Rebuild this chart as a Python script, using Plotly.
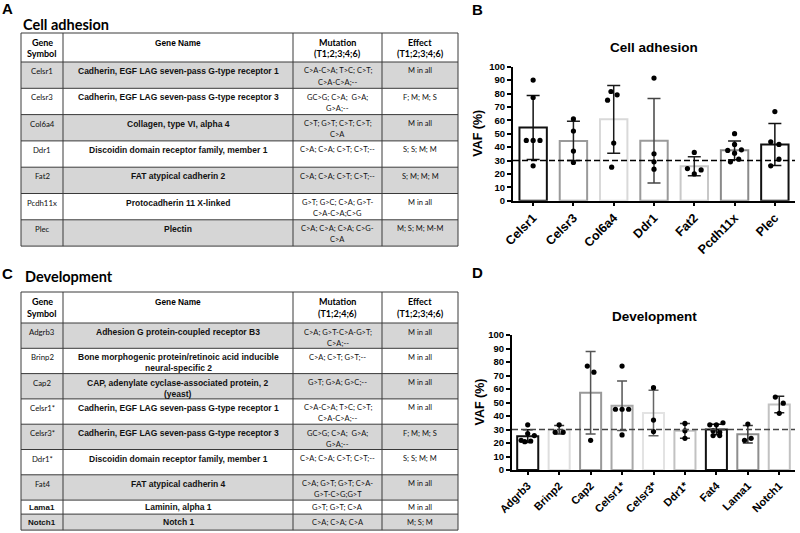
import numpy as np
import plotly.graph_objects as go

W, H = 800, 533

# ------------------------------------------------------------------ table data
ca_header = ["Gene<br>Symbol", "Gene Name", "Mutation<br>(T1;2;3;4;6)", "Effect<br>(T1;2;3;4;6)"]
ca_symbols = ["Celsr1", "Celsr3", "Col6a4", "Ddr1", "Fat2", "Pcdh11x", "Plec"]
ca_names = [
    "Cadherin, EGF LAG seven-pass G-type receptor 1",
    "Cadherin, EGF LAG seven-pass G-type receptor 3",
    "Collagen, type VI, alpha 4",
    "Discoidin domain receptor family, member 1",
    "FAT atypical cadherin 2",
    "Protocadherin 11 X-linked",
    "Plectin",
]
ca_mutations = [
    "C>A-C>A; T>C; C>T;<br>C>A-C>A;--",
    "GC>G; C>A;  G>A;<br>G>A;--",
    "C>T; G>T; C>T; C>T;<br>C>A",
    "C>A; C>A; C>T; C>T;--",
    "C>A; C>A; C>T; C>T;--",
    "G>T; G>C; C>A; G>T-<br>C>A-C>A;C>G",
    "C>A; C>A; C>A; C>G-<br>C>A",
]
ca_effects = ["M in all", "F; M; M; S", "M in all", "S; S; M; M", "S; M; M; M", "M in all", "M; S; M; M-M"]

dev_header = ["Gene<br>Symbol", "Gene Name", "Mutation<br>(T1;2;4;6)", "Effect<br>(T1;2;3;4;6)"]
dev_symbols = ["Adgrb3", "Brinp2", "Cap2", "Celsr1*", "Celsr3*", "Ddr1*", "Fat4", "Lama1", "Notch1"]
dev_names = [
    "Adhesion G protein-coupled receptor B3",
    "Bone morphogenic protein/retinoic acid inducible<br>neural-specific 2",
    "CAP, adenylate cyclase-associated protein, 2<br>(yeast)",
    "Cadherin, EGF LAG seven-pass G-type receptor 1",
    "Cadherin, EGF LAG seven-pass G-type receptor 3",
    "Discoidin domain receptor family, member 1",
    "FAT atypical cadherin 4",
    "Laminin, alpha 1",
    "Notch 1",
]
dev_mutations = [
    "C>A; G>T-C>A-G>T;<br>C>A;--",
    "C>A; C>T; G>T;--",
    "G>T; G>A; G>C;--",
    "C>A-C>A; T>C; C>T;<br>C>A-C>A;--",
    "GC>G; C>A;  G>A;<br>G>A;--",
    "C>A; C>A; C>T; C>T;--",
    "C>A; G>T; G>T; C>A-<br>G>T-C>G;G>T",
    "G>T; G>T; C>A",
    "C>A; C>A; C>A",
]
dev_effects = ["M in all", "M in all", "M in all", "M in all", "F; M; M; S", "S; S; M; M", "M in all", "M in all", "M; S; M"]

# ------------------------------------------------------------------ VAF data (%)
ca_genes = ["Celsr1", "Celsr3", "Col6a4", "Ddr1", "Fat2", "Pcdh11x", "Plec"]
ca_vaf = [
    [90, 77, 45, 45, 45, 26],
    [61, 52, 37, 28.5],
    [81.5, 79, 75, 43, 25],
    [91.5, 35, 29, 23.5],
    [36, 24, 23, 20],
    [50, 42, 38, 37.5, 35.5, 31, 29],
    [66.5, 44, 42, 31, 26],
]
dev_genes = ["Adgrb3", "Brinp2", "Cap2", "Celsr1*", "Celsr3*", "Ddr1*", "Fat4", "Lama1", "Notch1"]
dev_vaf = [
    [33.5, 27, 25.5, 22, 21, 21.5],
    [33.5, 28, 28],
    [77, 72.5, 22],
    [77, 45, 45, 45, 26],
    [61, 37, 28.5],
    [34.5, 29, 23.5],
    [35, 33.5, 33.5, 29, 28, 25.5, 25.5],
    [34, 23.5, 22],
    [54, 49.5, 42],
]
threshold = 30

# ------------------------------------------------------------------ styles / layout
ca_jitter = [[0, 0, -1, 0, 1, 0], [0, 0, 0, 0], [-0.4, 0.5, -0.9, 0, -0.3], [0, 0, 0, 0],
             [0, -1, 1, 0], [0, 0, 1, -1, 0, 0.6, -0.6], [0, -0.6, 0.6, 0.6, -0.6]]
dev_jitter = [[0, 0, 1, -1, -0.45, 0.45], [0, -0.6, 0.6], [-0.5, 0.5, 0], [0, -1, 0, 1, 0], [0, 0, 0],
              [0, 0, 0], [1, -1, 0, -0.5, 0.5, -0.5, 0.5], [0, 0.5, -0.5], [-0.6, 0.6, 0]]
ca_colors = ["#111111", "#9a9a9a", "#d9d9d9", "#9a9a9a", "#c8c8c8", "#8a8a8a", "#111111"]
ca_ecolors = ["#111111", "#222222", "#1a1a1a", "#444444", "#222222", "#1a1a1a", "#111111"]
dev_colors = ["#111111", "#dedede", "#999999", "#a8a8a8", "#e3e3e3", "#c2c2c2", "#111111", "#8e8e8e", "#c2c2c2"]
dev_ecolors = ["#111111", "#333333", "#555555", "#555555", "#666666", "#333333", "#111111", "#333333", "#222222"]

CAL = "Lato, Carlito, Calibri, sans-serif"
ARI = "Liberation Sans, Arial, sans-serif"


def fx(px):
    return px / W


def fy(py):
    return 1 - py / H


fig = go.Figure()
shapes = []
annotations = []


def text(px, py, s, size, family, bold=False, xanchor="center", yanchor="middle", angle=0, color="black"):
    annotations.append(dict(
        x=fx(px), y=fy(py), xref="paper", yref="paper", text=s, showarrow=False,
        xanchor=xanchor, yanchor=yanchor, textangle=angle,
        font=dict(size=size, family=family, color=color, weight="bold" if bold else "normal"),
    ))


def draw_table(top, col_edges, header_h, row_heights, header, rows, symbol_bold):
    y = top + header_h
    bounds = []
    for i, h in enumerate(row_heights):
        bounds.append((y, y + h))
        if i % 2 == 0:
            shapes.append(dict(type="rect", xref="paper", yref="paper", x0=fx(col_edges[0]), x1=fx(col_edges[-1]),
                               y0=fy(y), y1=fy(y + h), fillcolor="#d6d6d6", line=dict(width=0), layer="below"))
        y += h
    bottom = y
    for yy in [top, top + header_h] + [b[1] for b in bounds]:
        shapes.append(dict(type="line", xref="paper", yref="paper", x0=fx(col_edges[0]), x1=fx(col_edges[-1]),
                           y0=fy(yy), y1=fy(yy), line=dict(color="#3a3a3a", width=1)))
    for xx in col_edges:
        shapes.append(dict(type="line", xref="paper", yref="paper", x0=fx(xx), x1=fx(xx),
                           y0=fy(top), y1=fy(bottom), line=dict(color="#3a3a3a", width=1)))
    centers = [(col_edges[k] + col_edges[k + 1]) / 2 for k in range(len(col_edges) - 1)]
    for k, s in enumerate(header):
        fam = ARI if k == 1 else CAL
        size = 8.3 if k == 1 else 9
        for j, line in enumerate(s.split("<br>")):
            text(centers[k], top + 9.5 + 11.5 * j, line, size, fam, bold=True)
    for r, (row, (y0, y1)) in enumerate(zip(rows, bounds)):
        for k, s in enumerate(row):
            if k == 0:
                fam, size, b = (ARI, 8, True) if symbol_bold[r] else (CAL, 7.8, False)
            elif k == 1:
                fam, size, b = ARI, 8.5, True
            else:
                fam, size, b = CAL, 7.5, False
            lines = s.split("<br>")
            for j, line in enumerate(lines):
                if y1 - y0 < 20:
                    yy = (y0 + y1) / 2
                else:
                    yy = y0 + 9 + 11 * j
                text(centers[k], yy, line, size, fam, bold=b, color="#111111")


cols = [21, 63, 293, 382, 458]
draw_table(33, cols, 29, [26.3] * 7, ca_header,
           list(zip(ca_symbols, ca_names, ca_mutations, ca_effects)), [False] * 7)
draw_table(292, cols, 31, [25.3] * 7 + [14, 16], dev_header,
           list(zip(dev_symbols, dev_names, dev_mutations, dev_effects)), [False] * 7 + [True, True])

# section / panel labels
text(7.5, 8.5, "A", 15, ARI, bold=True)
text(477.5, 9.5, "B", 15, ARI, bold=True)
text(7, 273, "C", 15, ARI, bold=True)
text(477.5, 272, "D", 15, ARI, bold=True)
text(21, 25, "Cell adhesion", 14.5, CAL, bold=True, xanchor="left")
text(23, 276.5, "Development", 14.5, CAL, bold=True, xanchor="left")


def add_panel(genes, points, jitter, colors, ecolors, xa, ya, width, cap, jit_unit):
    for i, pts in enumerate(points):
        arr = np.array(pts, dtype=float)
        m = arr.mean()
        sd = arr.std(ddof=1)
        fig.add_trace(go.Bar(
            x=[i], y=[m], width=width, xaxis=xa, yaxis=ya, showlegend=False, hoverinfo="skip",
            marker=dict(color="white", line=dict(color=colors[i], width=2)),
            error_y=dict(type="data", array=[sd], visible=True, color=ecolors[i], thickness=1.5, width=cap),
        ))
    for i, pts in enumerate(points):
        fig.add_trace(go.Scatter(
            x=i + np.array(jitter[i]) * jit_unit, y=pts, mode="markers", xaxis=xa, yaxis=ya,
            showlegend=False, hoverinfo="skip", marker=dict(color="black", size=5.2, line=dict(width=0)),
        ))


add_panel(ca_genes, ca_vaf, ca_jitter, ca_colors, ca_ecolors, "x", "y", 0.68, 6.5, 0.17)
add_panel(dev_genes, dev_vaf, dev_jitter, dev_colors, dev_ecolors, "x2", "y2", 0.67, 5, 0.21)


def yaxis(domain):
    return dict(domain=domain, range=[0, 100], dtick=10, tick0=0, showline=True, linecolor="black",
                linewidth=2, ticks="outside", ticklen=4, tickwidth=1.5, tickcolor="black",
                tickfont=dict(family=ARI, size=9.5, color="black", weight="bold"),
                showgrid=False, zeroline=False, fixedrange=True)


def xaxis(domain, genes, anchor, size):
    return dict(domain=domain, anchor=anchor, range=[-0.5, len(genes) - 0.5], tickvals=list(range(len(genes))),
                ticktext=genes, tickangle=-45, showline=True, linecolor="black", linewidth=2,
                ticks="outside", ticklen=3, tickwidth=1.5, tickcolor="black",
                tickfont=dict(family=ARI, size=size, color="black", weight="bold"),
                showgrid=False, zeroline=False, fixedrange=True)


yB = [fy(200.7), fy(66.7)]
yD = [fy(470), fy(335)]
xB = [fx(513), fx(795)]
xD = [fx(512), fx(795)]

shapes.append(dict(type="line", xref="x domain", yref="y", x0=0, x1=1, y0=threshold, y1=threshold,
                   line=dict(color="black", width=1.5, dash="6px,3px")))
shapes.append(dict(type="line", xref="x2 domain", yref="y2", x0=0, x1=1, y0=threshold, y1=threshold,
                   line=dict(color="#444444", width=1.5, dash="6px,3px")))

text(654, 47, "Cell adhesion", 13.5, ARI, bold=True)
text(654, 316, "Development", 13.5, ARI, bold=True)
text(478, (66.7 + 200.7) / 2, "VAF (%)", 12.5, ARI, bold=True, angle=-90)
text(479, (335 + 470) / 2, "VAF (%)", 12.5, ARI, bold=True, angle=-90)

fig.update_layout(
    width=W, height=H, margin=dict(l=0, r=0, t=0, b=0, autoexpand=False),
    paper_bgcolor="white", plot_bgcolor="white", barmode="overlay",
    xaxis=xaxis(xB, ca_genes, "y", 12.5), yaxis=yaxis(yB),
    xaxis2=xaxis(xD, dev_genes, "y2", 11), yaxis2=dict(yaxis(yD), anchor="x2"),
    shapes=shapes, annotations=annotations, showlegend=False,
)
fig.layout.yaxis.anchor = "x"

fig.write_html(
    "out.html",
    config={"displayModeBar": False},
    post_script="document.body.style.margin='0';document.body.style.overflow='hidden';",
)
